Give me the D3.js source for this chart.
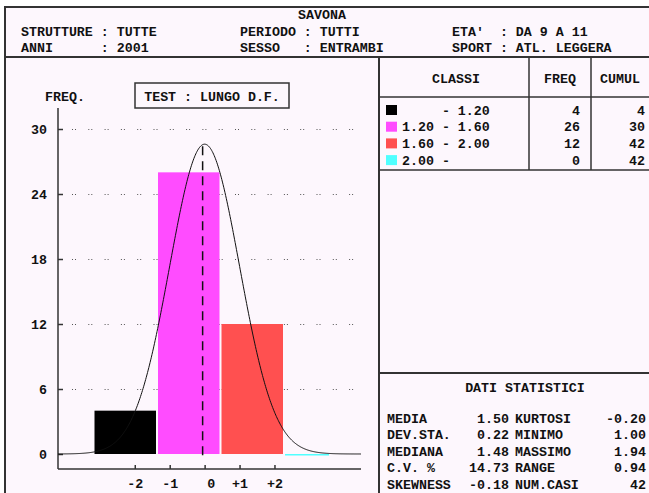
<!DOCTYPE html>
<html><head><meta charset="utf-8">
<script src="https://cdn.jsdelivr.net/npm/d3@7"></script>
<style>
html,body{margin:0;padding:0;background:#fff;}
text{font-family:"Liberation Mono","DejaVu Sans Mono",monospace;font-weight:bold;font-size:13.3px;fill:#111;}
</style></head><body>
<svg id="c" width="649" height="493"></svg>
<script>
// ---- data ----
const title = "SAVONA";
const headerLeft = ["STRUTTURE : TUTTE", "ANNI      : 2001"];
const headerMid = ["PERIODO : TUTTI", "SESSO   : ENTRAMBI"];
const headerRight = ["ETA'  : DA 9 A 11", "SPORT : ATL. LEGGERA"];
const testLabel = "TEST : LUNGO D.F.";
const classLabels = ["     - 1.20", "1.20 - 1.60", "1.60 - 2.00", "2.00 -"];
const classLo = [0.80, 1.20, 1.60, 2.00];
const classHi = [1.20, 1.60, 2.00, 2.29];
const freq = [4, 26, 12, 0];
const cumul = [4, 30, 42, 42];
const classColors = ["#000000", "#ff4cff", "#ff5050", "#50ffff"];
const yTicks = [0, 6, 12, 18, 24, 30];
const sigmaTicks = [-2, -1, 0, 1, 2];
const sigmaLabels = ["-2", "-1", "0", "+1", "+2"];
const statLabelsL = ["MEDIA", "DEV.STA.", "MEDIANA", "C.V. %", "SKEWNESS"];
const statValuesL = ["1.50", "0.22", "1.48", "14.73", "-0.18"];
const statLabelsR = ["KURTOSI", "MINIMO", "MASSIMO", "RANGE", "NUM.CASI"];
const statValuesR = ["-0.20", "1.00", "1.94", "0.94", "42"];
const mean = 1.50, sd = 0.22, curvePeak = 28.6;

// ---- drawing ----
const svg = d3.select("#c");
const bg = "#fdf7fd", lineC = "#333";
svg.append("rect").attr("x",5).attr("y",7).attr("width",650).attr("height",495)
  .attr("fill",bg).attr("stroke",lineC).attr("stroke-width",2);

// header
svg.append("text").attr("x",322).attr("y",14).attr("dy","0.35em").attr("text-anchor","middle").text(title);
const hx=[21,240,452];
[headerLeft,headerMid,headerRight].forEach((arr,i)=>arr.forEach((t,j)=>{
  svg.append("text").attr("x",hx[i]).attr("y",31+j*16).attr("dy","0.35em").style("white-space","pre").text(t);
}));
svg.append("line").attr("x1",5).attr("x2",649).attr("y1",57).attr("y2",57).attr("stroke",lineC).attr("stroke-width",2);
// right panel lines
svg.append("line").attr("x1",379).attr("x2",379).attr("y1",57).attr("y2",493).attr("stroke",lineC).attr("stroke-width",2);
svg.append("line").attr("x1",529).attr("x2",529).attr("y1",57).attr("y2",170).attr("stroke",lineC).attr("stroke-width",1.5);
svg.append("line").attr("x1",591).attr("x2",591).attr("y1",57).attr("y2",170).attr("stroke",lineC).attr("stroke-width",1.5);
svg.append("line").attr("x1",379).attr("x2",649).attr("y1",97).attr("y2",97).attr("stroke",lineC).attr("stroke-width",1.5);
svg.append("line").attr("x1",379).attr("x2",649).attr("y1",170).attr("y2",170).attr("stroke",lineC).attr("stroke-width",1.5);
svg.append("line").attr("x1",379).attr("x2",649).attr("y1",373).attr("y2",373).attr("stroke",lineC).attr("stroke-width",2);

// table
svg.append("text").attr("x",456).attr("y",78).attr("dy","0.35em").attr("text-anchor","middle").text("CLASSI");
svg.append("text").attr("x",560).attr("y",78).attr("dy","0.35em").attr("text-anchor","middle").text("FREQ");
svg.append("text").attr("x",620).attr("y",78).attr("dy","0.35em").attr("text-anchor","middle").text("CUMUL");
classLabels.forEach((c,i)=>{
  const y=110+i*16.7;
  svg.append("rect").attr("x",386).attr("y",y-5).attr("width",11).attr("height",10).attr("fill",classColors[i]);
  svg.append("text").attr("x",402).attr("y",y).attr("dy","0.35em").style("white-space","pre").text(c);
  svg.append("text").attr("x",580).attr("y",y).attr("dy","0.35em").attr("text-anchor","end").text(freq[i]);
  svg.append("text").attr("x",645).attr("y",y).attr("dy","0.35em").attr("text-anchor","end").text(cumul[i]);
});

// stats
svg.append("text").attr("x",525).attr("y",387).attr("dy","0.35em").attr("text-anchor","middle").text("DATI STATISTICI");
statLabelsL.forEach((l,i)=>{
  const y=418+i*16.6;
  svg.append("text").attr("x",387).attr("y",y).attr("dy","0.35em").text(l);
  svg.append("text").attr("x",509).attr("y",y).attr("dy","0.35em").attr("text-anchor","end").text(statValuesL[i]);
  svg.append("text").attr("x",515).attr("y",y).attr("dy","0.35em").text(statLabelsR[i]);
  svg.append("text").attr("x",646).attr("y",y).attr("dy","0.35em").attr("text-anchor","end").text(statValuesR[i]);
});

// chart
const x = d3.scaleLinear().domain([1.20, 2.00]).range([157, 284]);
const y = d3.scaleLinear().domain([0, 30]).range([454, 129]);
const axL=58, axR=361, axB=469, axT=108;

svg.append("text").attr("x",45).attr("y",96).attr("dy","0.35em").text("FREQ.");
svg.append("rect").attr("x",135).attr("y",83).attr("width",154).attr("height",25).attr("fill","none").attr("stroke",lineC).attr("stroke-width",1.5);
svg.append("text").attr("x",212).attr("y",96).attr("dy","0.35em").attr("text-anchor","middle").text(testLabel);

// grid
const g = svg.append("g");
yTicks.filter(v=>v>0).forEach(v=>{
  g.append("line").attr("x1",72).attr("x2",355).attr("y1",Math.round(y(v))+0.5).attr("y2",Math.round(y(v))+0.5)
    .attr("stroke","#555").attr("stroke-dasharray","1,2,1,12.3");
});
// bars
svg.selectAll(".bar").data(freq).enter().append("rect")
  .attr("x",(d,i)=>x(classLo[i])+1).attr("width",(d,i)=>x(classHi[i])-x(classLo[i])-2)
  .attr("y",d=>y(d)).attr("height",d=>Math.max(y(0)-y(d),1.5))
  .attr("fill",(d,i)=>classColors[i]);

// y axis
const yAxis = d3.axisLeft(y).tickValues(yTicks).tickSize(-5).tickPadding(11);
const ya = svg.append("g").attr("transform",`translate(${axL},0)`).call(yAxis);
ya.select(".domain").remove();
ya.selectAll("line").attr("stroke",lineC).attr("stroke-width",1.5);
ya.selectAll("text").attr("font-size",null).attr("font-family",null).style("font-size","13.3px").attr("fill","#111");
svg.append("line").attr("x1",axL).attr("x2",axL).attr("y1",axT).attr("y2",axB).attr("stroke",lineC).attr("stroke-width",1.5);

// x axis (sigma)
const xa = d3.axisBottom(x).tickValues(sigmaTicks.map(k=>mean+k*sd)).tickSize(-4).tickPadding(10)
  .tickFormat((d,i)=>sigmaLabels[i]);
const xg = svg.append("g").attr("transform",`translate(0,${axB})`).call(xa);
xg.select(".domain").remove();
xg.selectAll("line").attr("stroke",lineC).attr("stroke-width",1.5);
xg.selectAll("text").attr("font-size",null).attr("font-family",null).style("font-size","13.3px").attr("fill","#111");
xg.selectAll(".tick").filter(d=>Math.abs(d-mean)<1e-9).select("text").attr("dx",6);
svg.append("line").attr("x1",axL).attr("x2",axR).attr("y1",axB).attr("y2",axB).attr("stroke",lineC).attr("stroke-width",1.5);

// normal curve
const xs = d3.range(x.invert(axL), x.invert(axR), 0.004);
xs.push(x.invert(axR));
const line = d3.line().x(d=>x(d)).y(d=>y(curvePeak*Math.exp(-0.5*((d-mean)/sd)**2)));
svg.append("path").datum(xs).attr("d",line).attr("fill","none").attr("stroke","#111").attr("stroke-width",1);

// mean dashed
svg.append("line").attr("x1",x(mean)-2).attr("x2",x(mean)-2).attr("y1",y(curvePeak)+2).attr("y2",461)
  .attr("stroke","#111").attr("stroke-width",1.5).attr("stroke-dasharray","9,6");
</script></body></html>
